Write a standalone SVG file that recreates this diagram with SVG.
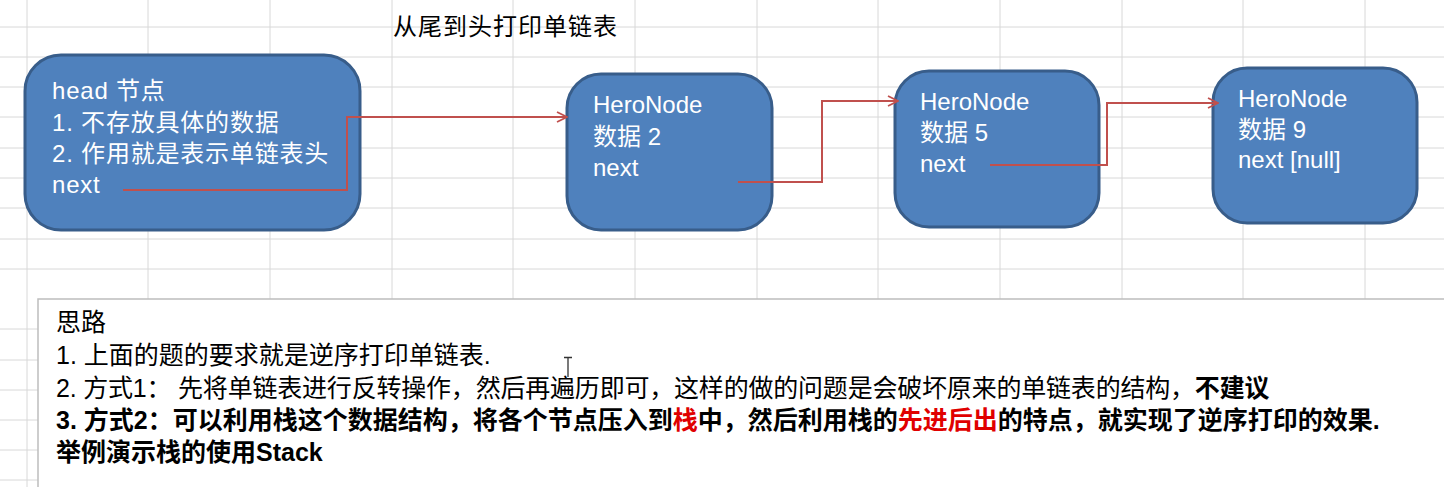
<svg xmlns="http://www.w3.org/2000/svg" width="1444" height="487" viewBox="0 0 1444 487">
<defs>
<style>
.grid line{stroke:#D8D8D8;stroke-width:1}
.node rect{fill:#4F81BD;stroke:#385D8A;stroke-width:3}
.nt{fill:#FFFFFF;font-family:"Liberation Sans","Noto Sans CJK SC",sans-serif;font-size:24px}
.ht{letter-spacing:0.8px}
.conn{fill:none;stroke:#C0504D;stroke-width:2;marker-end:url(#arr)}
.bt{fill:#000;font-family:"Liberation Sans","Noto Sans CJK SC",sans-serif;font-size:25px}
.b{font-weight:bold}
.red{fill:#E00000}
</style>
<marker id="arr" viewBox="0 0 12 12" refX="11" refY="6" markerWidth="12" markerHeight="12" markerUnits="userSpaceOnUse" orient="auto">
<path d="M1,1 L11,6 L1,11" fill="none" stroke="#C0504D" stroke-width="1.8"/>
</marker>
</defs>
<rect width="1444" height="487" fill="#FFFFFF"/>
<g class="grid">
<line x1="27" y1="0" x2="27" y2="487"/><line x1="148" y1="0" x2="148" y2="487"/><line x1="270" y1="0" x2="270" y2="487"/><line x1="392" y1="0" x2="392" y2="487"/><line x1="513" y1="0" x2="513" y2="487"/><line x1="635" y1="0" x2="635" y2="487"/><line x1="757" y1="0" x2="757" y2="487"/><line x1="878" y1="0" x2="878" y2="487"/><line x1="1000" y1="0" x2="1000" y2="487"/><line x1="1122" y1="0" x2="1122" y2="487"/><line x1="1243" y1="0" x2="1243" y2="487"/><line x1="1365" y1="0" x2="1365" y2="487"/>
<line x1="0" y1="27" x2="1444" y2="27"/><line x1="0" y1="57" x2="1444" y2="57"/><line x1="0" y1="87" x2="1444" y2="87"/><line x1="0" y1="117" x2="1444" y2="117"/><line x1="0" y1="148" x2="1444" y2="148"/><line x1="0" y1="178" x2="1444" y2="178"/><line x1="0" y1="208" x2="1444" y2="208"/><line x1="0" y1="239" x2="1444" y2="239"/><line x1="0" y1="269" x2="1444" y2="269"/><line x1="0" y1="329" x2="1444" y2="329"/><line x1="0" y1="360" x2="1444" y2="360"/><line x1="0" y1="390" x2="1444" y2="390"/><line x1="0" y1="420" x2="1444" y2="420"/><line x1="0" y1="450" x2="1444" y2="450"/><line x1="0" y1="480" x2="1444" y2="480"/>
</g>
<text x="393" y="35" font-family="Liberation Sans,'Noto Sans CJK SC',sans-serif" font-size="24" letter-spacing="1" fill="#000">从尾到头打印单链表</text>
<g id="head" class="node">
<rect x="25" y="55" width="335" height="175" rx="36"/>
<text class="nt ht" x="52" y="99">head 节点</text>
<text class="nt ht" x="52" y="131">1. 不存放具体的数据</text>
<text class="nt ht" x="52" y="162">2. 作用就是表示单链表头</text>
<text class="nt ht" x="52" y="193">next</text>
</g>
<g id="node2" class="node">
<rect x="567" y="74" width="205" height="156" rx="34"/>
<text class="nt" x="593" y="113">HeroNode</text>
<text class="nt" x="593" y="145">数据 2</text>
<text class="nt" x="593" y="176">next</text>
</g>
<g id="node5" class="node">
<rect x="895" y="71" width="204" height="156" rx="34"/>
<text class="nt" x="920" y="110">HeroNode</text>
<text class="nt" x="920" y="141">数据 5</text>
<text class="nt" x="920" y="172">next</text>
</g>
<g id="node9" class="node">
<rect x="1213" y="68" width="204" height="155" rx="34"/>
<text class="nt" x="1238" y="107">HeroNode</text>
<text class="nt" x="1238" y="138">数据 9</text>
<text class="nt" x="1238" y="168">next [null]</text>
</g>
<g id="connectors">
<path class="conn" d="M123,190 H347 V117 H567"/>
<path class="conn" d="M738,182 H822 V101 H898"/>
<path class="conn" d="M990,165 H1107 V103 H1218"/>
</g>
<g id="notes">
<rect x="38" y="299" width="1410" height="192" fill="#FFFFFF" stroke="#BDBDBD" stroke-width="1.5"/>
<text class="bt" x="56" y="331">思路</text>
<text class="bt" x="56" y="364">1. 上面的题的要求就是逆序打印单链表.</text>
<text class="bt" x="56" y="397" letter-spacing="-0.2">2. 方式1： 先将单链表进行反转操作，然后再遍历即可，这样的做的问题是会破坏原来的单链表的结构，<tspan class="b">不建议</tspan></text>
<text class="bt b" x="56" y="429">3. 方式2：可以利用栈这个数据结构，将各个节点压入到<tspan class="red">栈</tspan>中，然后利用栈的<tspan class="red">先进后出</tspan>的特点，就实现了逆序打印的效果.</text>
<text class="bt b" x="56" y="461">举例演示栈的使用Stack</text>
<path d="M564,357.5 H572 M568,357.5 V377" fill="none" stroke="#333" stroke-width="1.3"/>
</g>
</svg>
